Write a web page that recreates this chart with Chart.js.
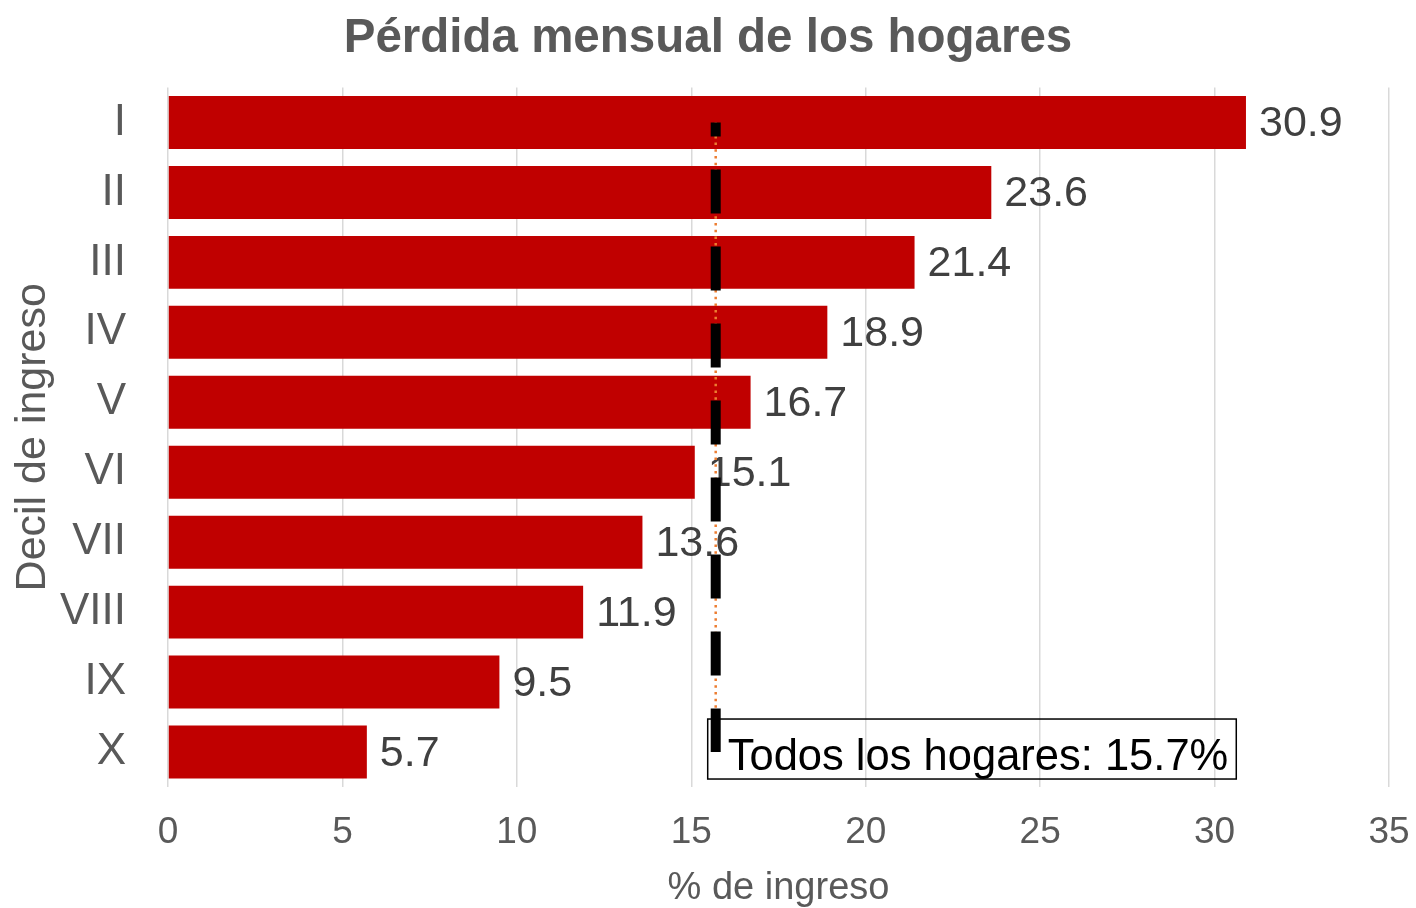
<!DOCTYPE html>
<html>
<head>
<meta charset="utf-8">
<script src="https://cdn.jsdelivr.net/npm/chart.js@4/dist/chart.umd.min.js"></script>
<style>
  body { margin: 0; background: #fff; }
  #wrap { width: 1416px; height: 908px; }
</style>
</head>
<body>
<div id="wrap"><canvas id="myChart" width="1416" height="908"></canvas></div>
<script>
const deciles = ['I', 'II', 'III', 'IV', 'V', 'VI', 'VII', 'VIII', 'IX', 'X'];
const monthlyLoss = [30.9, 23.6, 21.4, 18.9, 16.7, 15.1, 13.6, 11.9, 9.5, 5.7];
const allHouseholds = 15.7;
const allLabel = 'Todos los hogares: 15.7%';

const FONT = "'Liberation Sans', Arial, sans-serif";
const GREY = '#595959';

// average line goes from the first to the last decile
const avgLine = [
  { x: allHouseholds, y: deciles[0] },
  { x: allHouseholds, y: deciles[deciles.length - 1] }
];

const barLabels = {
  id: 'barLabels',
  afterDatasetDraw(chart, args) {
    if (args.index !== 0) return;
    const ctx = chart.ctx;
    const meta = args.meta;
    ctx.save();
    ctx.font = '43px ' + FONT;
    ctx.fillStyle = '#404040';
    ctx.textAlign = 'left';
    ctx.textBaseline = 'middle';
    meta.data.forEach((bar, i) => {
      ctx.fillText(monthlyLoss[i].toFixed(1), bar.x + 13, bar.y + 2);
    });

    // box with the all-households value
    const xs = chart.scales.x, ys = chart.scales.y;
    const px = xs.getPixelForValue(allHouseholds);
    const py = ys.getPixelForValue(deciles.length - 1);
    ctx.font = '43.5px ' + FONT;
    const w = ctx.measureText(allLabel).width;
    const left = px - 8;
    const right = left + 20 + w + 8;
    ctx.strokeStyle = '#000';
    ctx.lineWidth = 1.5;
    ctx.strokeRect(left, py - 33, right - left, 60);
    ctx.fillStyle = '#000';
    ctx.textBaseline = 'alphabetic';
    ctx.fillText(allLabel, left + 20, py + 18);
    ctx.restore();
  }
};

const config = {
  type: 'bar',
  data: {
    labels: deciles,
    datasets: [{
      type: 'bar',
      data: monthlyLoss,
      backgroundColor: '#C00000',
      categoryPercentage: 1,
      barPercentage: 0.757,
      order: 3
    }, {
      type: 'line',
      data: avgLine,
      borderColor: '#ED7D31',
      borderWidth: 2.5,
      borderDash: [2.5, 4.2],
      pointRadius: 0,
      fill: false,
      order: 2
    }, {
      type: 'line',
      data: avgLine,
      borderColor: '#000',
      borderWidth: 10,
      borderDash: [44, 33],
      borderDashOffset: 30,
      borderCapStyle: 'butt',
      pointRadius: 0,
      fill: false,
      order: 1
    }]
  },
  options: {
    indexAxis: 'y',
    responsive: false,
    animation: false,
    layout: { padding: 0 },
    plugins: {
      legend: { display: false },
      tooltip: { enabled: false },
      title: {
        display: true,
        text: 'Pérdida mensual de los hogares',
        color: GREY,
        font: { family: FONT, size: 47.5, weight: 'bold' },
        padding: { top: 10, bottom: 20.5 }
      }
    },
    scales: {
      x: {
        min: 0,
        max: 35,
        ticks: {
          stepSize: 5,
          color: GREY,
          padding: 24,
          font: { family: FONT, size: 37 }
        },
        grid: { color: '#d9d9d9', lineWidth: 1.5, drawTicks: false },
        border: { display: false },
        title: {
          display: true,
          text: '% de ingreso',
          color: GREY,
          font: { family: FONT, size: 38 },
          padding: { top: 0, bottom: -3 }
        },
        afterFit(scale) {
          scale.height = 121;
          scale.paddingRight = 27;
          scale.paddingLeft = 0;
        }
      },
      y: {
        ticks: {
          color: GREY,
          padding: 42,
          font: { family: FONT, size: 44 }
        },
        grid: { display: false, drawTicks: false },
        border: { display: false },
        title: {
          display: true,
          text: 'Decil de ingreso',
          color: GREY,
          font: { family: FONT, size: 43 },
          padding: { top: 7, bottom: 0 }
        },
        afterFit(scale) { scale.width = 168; }
      }
    }
  },
  plugins: [barLabels]
};

const myChart = new Chart(document.getElementById('myChart'), config);
</script>
</body>
</html>
